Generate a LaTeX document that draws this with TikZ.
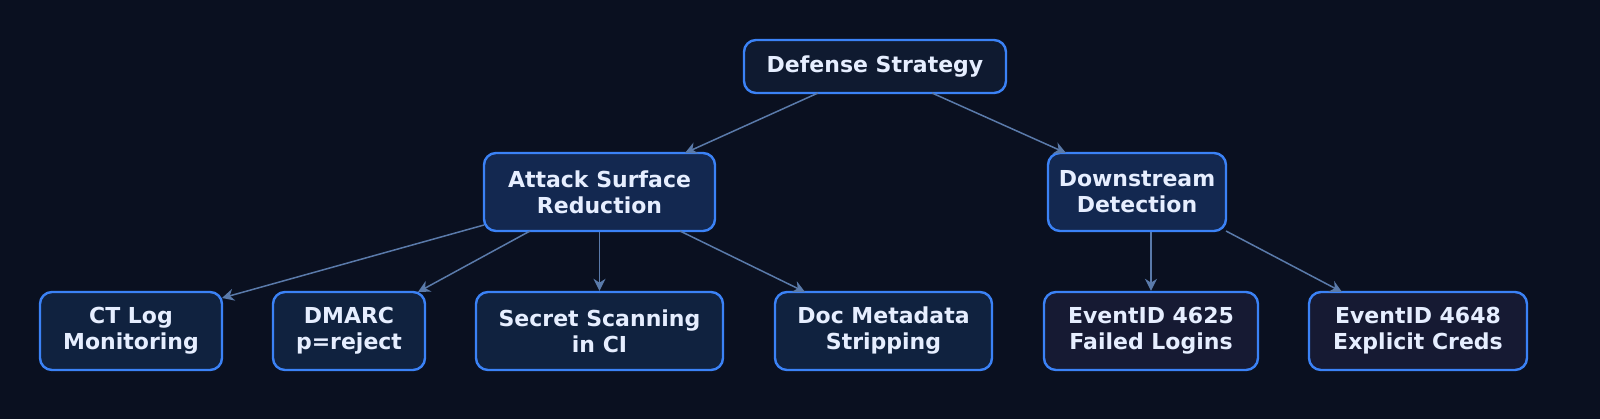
\documentclass[tikz,border=0pt]{standalone}
\usepackage{fontspec}
\setmainfont{DejaVu Sans}
\usetikzlibrary{arrows.meta}
\definecolor{bg}{HTML}{0A1020}
\definecolor{bord}{HTML}{3B82F6}
\definecolor{edge}{HTML}{5A7AAA}
\definecolor{txt}{HTML}{E6EEFF}
\definecolor{fTop}{HTML}{0F1A30}
\definecolor{fMid}{HTML}{132850}
\definecolor{fLeaf}{HTML}{10223F}
\definecolor{fDet}{HTML}{161A33}
\tikzset{
 box/.style={draw=bord,line width=1.2pt,rounded corners=6pt,text=txt,font=\bfseries\fontsize{11}{13}\selectfont,align=center,inner sep=0pt},
 conn/.style={draw=edge,line width=0.75pt,-{Stealth[length=6pt,width=6pt]}}
}
\begin{document}
\begin{tikzpicture}[x=0.5pt,y=-0.5pt]
\fill[bg] (0,0) rectangle (1600,419);
\node[box,fill=fTop,minimum width=131pt,minimum height=26.5pt] (def) at (875,66.5) {Defense Strategy};
\node[box,fill=fMid,minimum width=115.5pt,minimum height=39pt] (asr) at (599.5,192) {Attack Surface\\Reduction};
\node[box,fill=fMid,minimum width=89pt,minimum height=39pt] (ds) at (1137,192) {Downstream\\Detection};
\node[box,fill=fLeaf,minimum width=91pt,minimum height=39pt] (ct) at (131,331) {CT Log\\Monitoring};
\node[box,fill=fLeaf,minimum width=76pt,minimum height=39pt] (dm) at (349,331) {DMARC\\p=reject};
\node[box,fill=fLeaf,minimum width=123.5pt,minimum height=39pt] (ss) at (599.5,331) {Secret Scanning\\in CI};
\node[box,fill=fLeaf,minimum width=108.5pt,minimum height=39pt] (doc) at (883.5,331) {Doc Metadata\\Stripping};
\node[box,fill=fDet,minimum width=107pt,minimum height=39pt] (e1) at (1151,331) {EventID 4625\\Failed Logins};
\node[box,fill=fDet,minimum width=109pt,minimum height=39pt] (e2) at (1418,331) {EventID 4648\\Explicit Creds};
\coordinate (p1) at (818,93); \coordinate (q1) at (685,153);
\coordinate (p2) at (932,93); \coordinate (q2) at (1066,153);
\coordinate (p3) at (484,225); \coordinate (q3) at (222,298);
\coordinate (p4) at (530,231); \coordinate (q4) at (418,292);
\coordinate (p6) at (680,231); \coordinate (q6) at (805,292);
\coordinate (p8) at (1226,231); \coordinate (q8) at (1342,292);
\draw[conn] (p1) -- (q1);
\draw[conn] (p2) -- (q2);
\draw[conn] (p3) -- (q3);
\draw[conn] (p4) -- (q4);
\draw[conn] (asr) -- (ss);
\draw[conn] (p6) -- (q6);
\draw[conn] (ds.south -| e1.north) -- (e1.north);
\draw[conn] (p8) -- (q8);
\pgfresetboundingbox
\useasboundingbox (0,0) rectangle (1600,419);
\end{tikzpicture}
\end{document}
